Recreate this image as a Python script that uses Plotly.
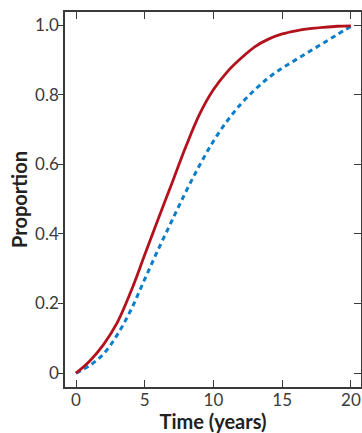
import plotly.graph_objects as go

# Data
time_years = [0, 1, 2, 3, 4, 5, 6, 7, 8, 9, 10, 11, 12, 13, 14, 15, 16, 17, 18, 19, 20]
red_solid = [0.0, 0.035, 0.082, 0.145, 0.235, 0.34, 0.445, 0.548, 0.652, 0.745, 0.815,
             0.866, 0.905, 0.938, 0.96, 0.975, 0.984, 0.99, 0.994, 0.997, 0.998]
blue_dotted = [0.0, 0.022, 0.055, 0.11, 0.182, 0.27, 0.357, 0.44, 0.522, 0.598, 0.667,
               0.725, 0.774, 0.814, 0.849, 0.877, 0.901, 0.925, 0.949, 0.973, 0.997]
x_ticks = [0, 5, 10, 15, 20]
y_ticks = [0, 0.2, 0.4, 0.6, 0.8, 1.0]
y_tick_labels = ["0", "0.2", "0.4", "0.6", "0.8", "1.0"]

RED = "#B3121D"
BLUE = "#0A7DCB"
AXC = "#3a3a3a"
FONT = "Lato"

fig = go.Figure()
fig.add_trace(go.Scatter(x=time_years, y=blue_dotted, mode="lines",
                         line=dict(color=BLUE, width=3, dash="5px,4px", shape="spline", smoothing=1.0),
                         showlegend=False, hoverinfo="skip"))
fig.add_trace(go.Scatter(x=time_years, y=red_solid, mode="lines",
                         line=dict(color=RED, width=2.8, shape="spline", smoothing=1.0),
                         showlegend=False, hoverinfo="skip"))
# helper invisible trace for right axis ticks
fig.add_trace(go.Scatter(x=[time_years[0]], y=[red_solid[0]], yaxis="y2", mode="markers",
                         marker=dict(opacity=0), showlegend=False, hoverinfo="skip"))

xr = [-0.8, 20.73]
yr = [-0.040, 1.038]

fig.update_layout(
    width=362, height=433,
    margin=dict(l=65, r=1, t=12, b=46),
    paper_bgcolor="white", plot_bgcolor="white",
    font=dict(family=FONT, color=AXC, size=17),
    xaxis=dict(range=xr, tickvals=x_ticks, ticktext=[str(v) for v in x_ticks],
               ticks="inside", ticklen=7, tickwidth=1.3, tickcolor=AXC,
               showline=True, linecolor=AXC, linewidth=1.5, mirror="ticks",
               showgrid=False, zeroline=False, automargin=False, ticklabelstandoff=-3,
               tickfont=dict(family=FONT, size=17, color=AXC),
               title=dict(text="<b>Time (years)</b>", font=dict(family=FONT, size=20, color="#222"), standoff=4)),
    yaxis=dict(range=yr, tickvals=y_ticks, ticktext=y_tick_labels,
               ticks="outside", ticklen=5, tickwidth=1.3, tickcolor=AXC,
               showline=True, linecolor=AXC, linewidth=1.5, mirror=True,
               showgrid=False, zeroline=False, automargin=False, ticklabelstandoff=-4,
               tickfont=dict(family=FONT, size=17, color=AXC),
               title=dict(text="<b>Proportion</b>", font=dict(family=FONT, size=20, color="#222"), standoff=2)),
    yaxis2=dict(range=yr, tickvals=y_ticks, overlaying="y", side="right",
                ticks="inside", ticklen=7, tickwidth=1.3, tickcolor=AXC, automargin=False,
                showticklabels=False, showline=False, showgrid=False, zeroline=False),
)

fig.write_html("out.html", config={"displayModeBar": False},
               post_script="document.body.style.margin='0';document.body.style.overflow='hidden';")
